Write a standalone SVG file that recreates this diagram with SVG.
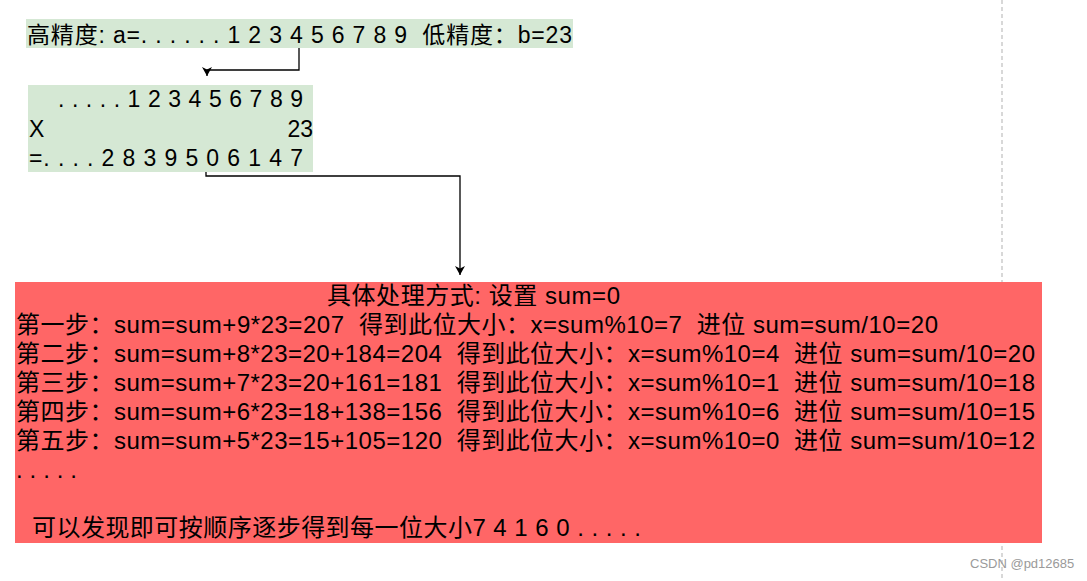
<svg xmlns="http://www.w3.org/2000/svg" width="1087" height="581" viewBox="0 0 1087 581">
  <style>
    text { font-family: "Liberation Sans", "Noto Sans CJK SC", sans-serif; fill: #000; white-space: pre; }
    .g { fill: #d5e8d4; }
    .r { fill: #ff6666; }
    .s { font-size: 23px; }
    .b { font-size: 24px; }
    .edge { fill: none; stroke: #000; stroke-width: 1.3; }
    .wm { font-size: 13px; fill: #9a9a9a; }
  </style>
  <defs>
    <marker id="arr" markerUnits="userSpaceOnUse" markerWidth="12" markerHeight="12" viewBox="0 0 12 12" refX="10" refY="6" orient="auto">
      <path d="M1,1 L10,6 L1,11 L3.5,6 Z" fill="#000"/>
    </marker>
  </defs>
  <rect width="1087" height="581" fill="#fff"/>
  <line x1="1002" y1="0" x2="1002" y2="581" stroke="#cccccc" stroke-width="1.5" stroke-dasharray="4 3"/>

  <g id="node-top">
    <rect class="g" x="26" y="19" width="547" height="29"/>
    <text class="s" x="27" y="43" textLength="545" lengthAdjust="spacing">高精度: a=. . . . . . 1 2 3 4 5 6 7 8 9  低精度：b=23</text>
  </g>

  <g id="node-mult">
    <rect class="g" x="28" y="85" width="285" height="87"/>
    <text class="s" x="58" y="107" textLength="245" lengthAdjust="spacing">. . . . . 1 2 3 4 5 6 7 8 9</text>
    <text class="s" x="29" y="137">X</text>
    <text class="s" x="313" y="137" text-anchor="end">23</text>
    <text class="s" x="29" y="166" textLength="274" lengthAdjust="spacing">=. . . . 2 8 3 9 5 0 6 1 4 7</text>
  </g>

  <g id="node-process">
    <rect class="r" x="15" y="282" width="1027" height="261"/>
    <text class="b" x="327" y="304" textLength="293" lengthAdjust="spacing">具体处理方式: 设置 sum=0</text>
    <text class="b" x="16" y="333" textLength="922" lengthAdjust="spacing">第一步：sum=sum+9*23=207  得到此位大小：x=sum%10=7  进位 sum=sum/10=20</text>
    <text class="b" x="16" y="362" textLength="1019" lengthAdjust="spacing">第二步：sum=sum+8*23=20+184=204  得到此位大小：x=sum%10=4  进位 sum=sum/10=20</text>
    <text class="b" x="16" y="391" textLength="1019" lengthAdjust="spacing">第三步：sum=sum+7*23=20+161=181  得到此位大小：x=sum%10=1  进位 sum=sum/10=18</text>
    <text class="b" x="16" y="420" textLength="1019" lengthAdjust="spacing">第四步：sum=sum+6*23=18+138=156  得到此位大小：x=sum%10=6  进位 sum=sum/10=15</text>
    <text class="b" x="16" y="449" textLength="1019" lengthAdjust="spacing">第五步：sum=sum+5*23=15+105=120  得到此位大小：x=sum%10=0  进位 sum=sum/10=12</text>
    <text class="b" x="16" y="478" textLength="61" lengthAdjust="spacing">. . . . .</text>
    <text class="b" x="32" y="536" textLength="609" lengthAdjust="spacing">可以发现即可按顺序逐步得到每一位大小7 4 1 6 0 . . . . .</text>
  </g>

  <g id="connectors">
    <path class="edge" d="M299,48 V70 H207 V76" marker-end="url(#arr)"/>
    <path class="edge" d="M206,172 V176 H460 V275" marker-end="url(#arr)"/>
  </g>

  <text class="wm" x="970" y="568">CSDN @pd12685</text>
</svg>
